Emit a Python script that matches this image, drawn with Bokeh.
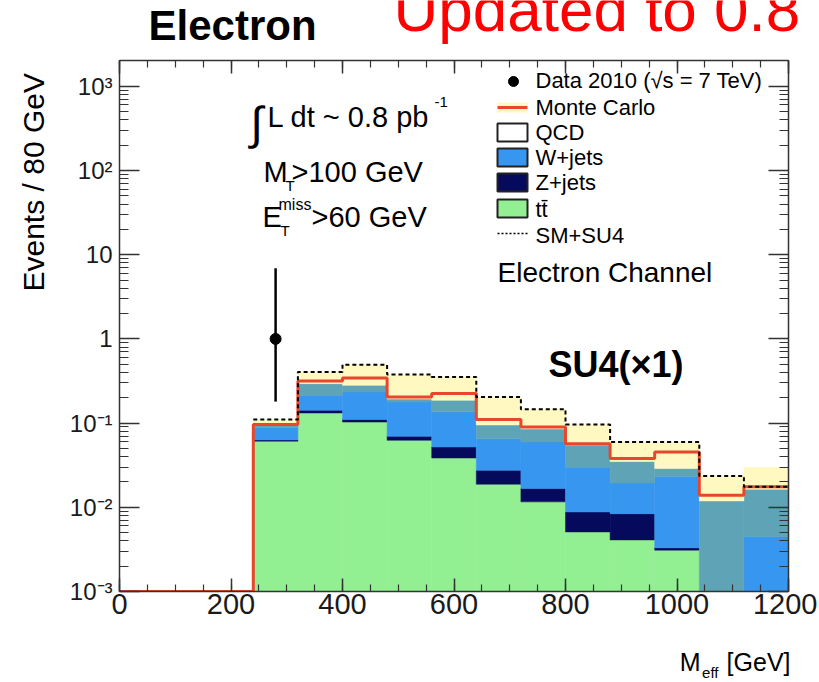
import numpy as np
from bokeh.plotting import figure
from bokeh.layouts import column, row
from bokeh.models import (Range1d, LinearAxis, LogAxis, FixedTicker,
                          CustomJSTickFormatter, Label)
from bokeh.embed import file_html
from bokeh.resources import INLINE

# ---------------- data ----------------
bin_edges = [0, 80, 160, 240, 320, 400, 480, 560, 640, 720, 800, 880, 960, 1040, 1120, 1200]
ttbar    = [0, 0, 0, 0.061, 0.132, 0.103, 0.0625, 0.0385, 0.0188, 0.0116, 0.0051, 0.0041, 0.0031, 0.0, 0.0]
zjets    = [0, 0, 0, 0.002, 0.010, 0.007, 0.0072, 0.0135, 0.0087, 0.0051, 0.0037, 0.0043, 0.0002, 0.0, 0.0]
wjets    = [0, 0, 0, 0.025, 0.072, 0.124, 0.108, 0.084, 0.0375, 0.043, 0.021, 0.011, 0.0198, 0.0, 0.0045]
other    = [0, 0, 0, 0.0066, 0.080, 0.047, 0.015, 0.051, 0.030, 0.0254, 0.025, 0.0155, 0.0058, 0.0119, 0.0119]
mc_total = [0, 0, 0, 0.096, 0.316, 0.343, 0.204, 0.224, 0.110, 0.090, 0.057, 0.038, 0.0454, 0.0139, 0.0175]
sm_su4   = [0, 0, 0, 0.110, 0.405, 0.494, 0.377, 0.353, 0.204, 0.146, 0.096, 0.0597, 0.0597, 0.0236, 0.0175]
band_hi  = [0, 0, 0, 0.110, 0.405, 0.494, 0.377, 0.353, 0.204, 0.146, 0.096, 0.0597, 0.0597, 0.0236, 0.030]
data_x  = [280]
data_y  = [1.0]
data_lo = [0.18]
data_hi = [6.9]
x_ticks = [0, 200, 400, 600, 800, 1000, 1200]
y_exps  = [-3, -2, -1, 0, 1, 2, 3]

# ---------------- layout (page pixels) ----------------
W = 817
TOP_H, MID_H, BOT_H = 48, 592, 40
LEFT_W = 50
PX_L, PX_R, PX_T, PX_B = 119, 788, 60, 591
DEC_PX = 84.2
FONT = "Liberation Sans"
MID = 0.35  # baseline -> vertical middle of the text, in em

def X(px):
    return (px - PX_L) / (PX_R - PX_L) * 1200.0
def Y(py):
    return 10 ** (-3 + (PX_B - py) / DEC_PX)

def blank_fig(w, h):
    f = figure(width=w, height=h, x_range=Range1d(0, w), y_range=Range1d(h, 0),
               x_axis_location=None, y_axis_location=None, min_border=0,
               output_backend="svg", toolbar_location=None)
    f.grid.visible = False
    f.outline_line_color = None
    f.background_fill_color = "white"
    f.border_fill_color = "white"
    return f

def mk_label(x, y, s, size, bold, color, align, angle, units):
    return Label(x=x, y=y, x_units=units, y_units=units, text=s, text_font=FONT,
                 text_font_size=f"{size}px",
                 text_font_style="bold" if bold else "normal", text_color=color,
                 text_align=align, text_baseline="middle", angle=angle)

def put(f, s, x, ybase, size, bold=False, color="black", align="left"):
    """x, ybase in the strip's own pixels (y down); ybase = text baseline."""
    f.add_layout(mk_label(x, ybase - MID * size, s, size, bold, color, align, 0.0, "data"))

# ---------------- main figure ----------------
MAIN_W = W - LEFT_W
p = figure(width=MAIN_W, height=MID_H, x_range=Range1d(0, 1200), y_range=Range1d(1e-3, Y(PX_T)),
           y_axis_type="log", output_backend="svg", toolbar_location=None,
           min_border_left=PX_L - LEFT_W, min_border_right=W - PX_R,
           min_border_top=PX_T - TOP_H, min_border_bottom=TOP_H + MID_H - PX_B)
p.xgrid.visible = False
p.ygrid.visible = False
p.background_fill_color = "white"
p.border_fill_color = "white"
p.outline_line_color = "#333333"

edges = np.array(bin_edges, dtype=float)
left, right = edges[:-1], edges[1:]
FLOOR = 1e-6
layers = [(ttbar, "#92ef92"), (zjets, "#060a5c"), (wjets, "#3796f0"), (other, "#5fa3b6")]
cum = np.zeros(len(left))
for vals, col in layers:
    v = np.array(vals, dtype=float)
    m = v > 0
    bot = np.where(cum > 0, cum, FLOOR)
    top = cum + v
    p.quad(left=left[m], right=right[m], bottom=bot[m], top=top[m],
           fill_color=col, line_color=col, line_width=0.5)
    cum = top

bh = np.array(band_hi, dtype=float)
m = bh > cum
p.quad(left=left[m], right=right[m], bottom=np.where(cum > 0, cum, FLOOR)[m], top=bh[m],
       fill_color="#fff8c0", line_color="#fff8c0", line_width=0.5)

mc = np.maximum(np.array(mc_total, dtype=float), 1e-3)
p.line(np.repeat(edges, 2)[1:-1], np.repeat(mc, 2), line_color="#e8472b", line_width=3)

first = int(np.argmax(np.array(sm_su4) > 0))
sv = np.array(sm_su4, dtype=float)[first:]
p.line(np.repeat(edges[first:], 2)[1:-1], np.repeat(sv, 2), line_color="black",
       line_width=2, line_dash="4 3")

p.segment(x0=data_x, y0=data_lo, x1=data_x, y1=data_hi, line_color="black", line_width=2.5)
p.scatter(data_x, data_y, size=11, color="black")

# axes
xt = FixedTicker(ticks=x_ticks, minor_ticks=list(range(0, 1201, 50)))
yt = FixedTicker(ticks=[10.0 ** e for e in y_exps],
                 minor_ticks=[k * 10.0 ** e for e in y_exps for k in range(2, 10)])
yfmt = CustomJSTickFormatter(code="""
const e = Math.round(Math.log10(tick));
const sup = {"-3": "\u207b\u00b3", "-2": "\u207b\u00b2", "-1": "\u207b\u00b9", "2": "\u00b2", "3": "\u00b3"};
if (e == 0) return "1";
if (e == 1) return "10";
return "10" + sup[String(e)];
""")
blank = CustomJSTickFormatter(code="return '';")

def style(ax, maj, mino, label_size):
    ax.axis_line_color = "#333333"
    ax.axis_line_width = 1.5
    ax.major_tick_in = maj
    ax.major_tick_out = 0
    ax.minor_tick_in = mino
    ax.minor_tick_out = 0
    ax.major_tick_line_color = "#333333"
    ax.minor_tick_line_color = "#333333"
    ax.major_tick_line_width = 1.5
    ax.minor_tick_line_width = 1.2
    ax.major_label_text_font = FONT
    ax.major_label_text_font_size = label_size
    ax.major_label_text_color = "#1a1a1a"

p.xaxis.ticker = xt
style(p.xaxis[0], 13, 7, "29px")
p.xaxis.major_label_standoff = 2
p.yaxis.ticker = yt
p.yaxis.formatter = yfmt
style(p.yaxis[0], 20, 9, "24px")
p.yaxis.major_label_standoff = 7

top_ax = LinearAxis(ticker=xt, formatter=blank)
style(top_ax, 13, 7, "1px")
top_ax.major_label_standoff = 0
p.add_layout(top_ax, "above")
right_ax = LogAxis(ticker=yt, formatter=blank)
style(right_ax, 20, 9, "1px")
right_ax.major_label_standoff = 0
p.add_layout(right_ax, "right")

def txt(s, px, pybase, size, bold=False, color="black", align="left", middle=False):
    # screen units are measured from the frame's bottom-left corner
    ymid = pybase if middle else pybase - MID * size
    p.add_layout(mk_label(px - PX_L, PX_B - ymid, s, size, bold, color, align, 0.0, "screen"))

# cuts / luminosity
txt("\u222b", 250, 122, 46, middle=True)
txt("L dt ~ 0.8 pb", 267, 127, 29)
txt("-1", 434, 107, 15)
txt("M", 263, 182, 29)
txt("T", 285, 190, 15)
txt(">100 GeV", 291, 182, 29)
txt("E", 262, 227, 29)
txt("miss", 278, 210, 16)
txt("T", 280, 235, 15)
txt(">60 GeV", 311, 227, 29)
txt("SU4(\u00d71)", 548, 377, 36, bold=True)

# legend (manual, no box)
LX0, LX1, TX = 497, 527, 535
p.scatter([X(513)], [Y(81)], size=10, color="black")
txt("Data 2010 (\u221as = 7 TeV)", TX, 88, 22)
p.quad(left=[X(LX0)], right=[X(LX1)], bottom=[Y(112)], top=[Y(102)],
       fill_color="#fff8c0", line_color=None)
p.line([X(LX0), X(LX1)], [Y(107), Y(107)], line_color="#e8472b", line_width=3)
txt("Monte Carlo", TX, 115, 22)
boxes = [("QCD", "white", 123, 141, 140),
         ("W+jets", "#3796f0", 148, 166, 165),
         ("Z+jets", "#060a5c", 173, 191, 190),
         ("tt\u0304", "#92ef92", 199, 217, 217)]
for name, col, y0, y1, base in boxes:
    p.quad(left=[X(LX0)], right=[X(LX1)], bottom=[Y(y1)], top=[Y(y0)],
           fill_color=col, line_color="#222222", line_width=2)
    txt(name, TX, base, 22)
p.line([X(LX0), X(LX1)], [Y(233), Y(233)], line_color="black", line_width=1.5, line_dash="2 2")
txt("SM+SU4", TX, 243, 22)
txt("Electron Channel", 497, 282, 28)

# ---------------- strips around the main figure (titles) ----------------
top_f = blank_fig(W, TOP_H)
put(top_f, "Electron", 148, 40, 42, bold=True)
put(top_f, "Updated to 0.8 pb\u207b\u00b9", 393, 31, 62, color="#ff0000")

left_f = blank_fig(LEFT_W, MID_H)
ysize = 30
left_f.add_layout(mk_label(43 - MID * ysize, 62 - TOP_H, "Events / 80 GeV", ysize, False,
                           "black", "right", np.pi / 2, "data"))

bot_f = blank_fig(W, BOT_H)
y0 = TOP_H + MID_H
put(bot_f, "M", 700, 670 - y0, 25, align="right")
put(bot_f, "eff", 718, 677 - y0, 15, align="right")
put(bot_f, "[GeV]", 790, 670 - y0, 25, align="right")

layout = column(top_f, row(left_f, p, spacing=0), bot_f, spacing=0)

with open("out.html", "w", encoding="utf-8") as f:
    f.write(file_html(layout, INLINE))
